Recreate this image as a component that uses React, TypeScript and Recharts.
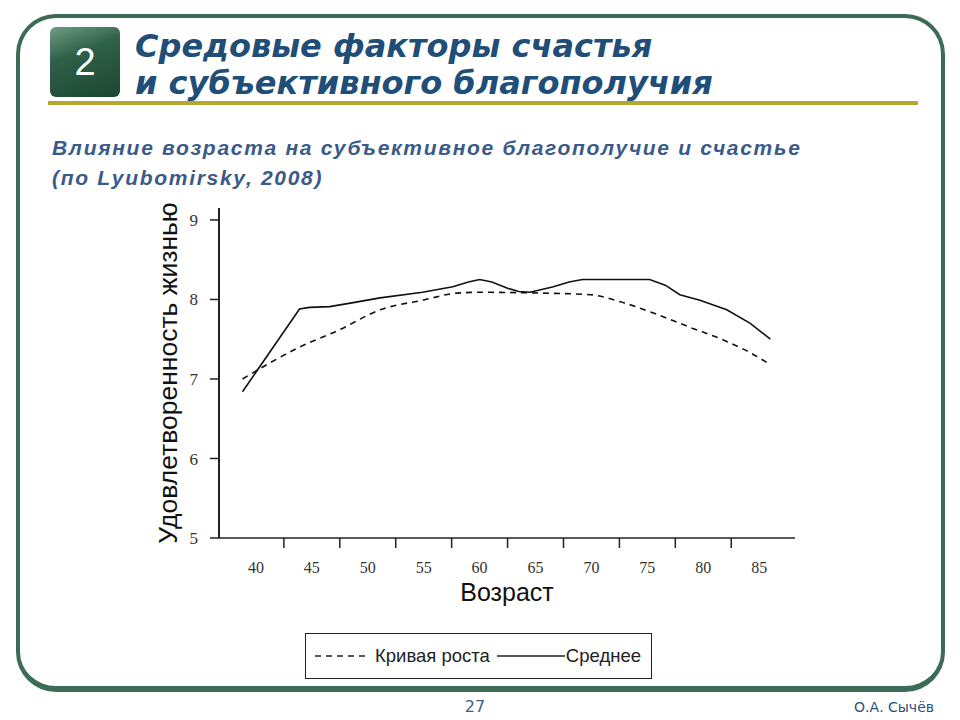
import { LineChart, Line, XAxis, YAxis, Legend } from "recharts";

// x axis: labels every 5 years, short tick marks between them
const AGE_TICKS = [40, 45, 50, 55, 60, 65, 70, 75, 80, 85];
const AGE_TICK_MARKS = [42.5, 47.5, 52.5, 57.5, 62.5, 67.5, 72.5, 77.5, 82.5];
const SCORE_TICKS = [5, 6, 7, 8, 9];

// "Кривая роста" (dashed)
const growthAges = [38.8, 43.9, 47.5, 51.1, 54.9, 58.0, 60.0, 65.4, 69.9, 72.6, 75.9, 78.8, 81.8, 84.2, 86.0];
const growthScores = [7.0, 7.4, 7.62, 7.87, 7.99, 8.08, 8.09, 8.08, 8.06, 7.97, 7.81, 7.65, 7.49, 7.33, 7.18];

// "Среднее" (solid)
const meanAges = [38.8, 43.9, 44.8, 46.6, 48.7, 51.1, 54.9, 57.6, 59.0, 60.0, 61.1, 62.5, 63.5, 64.5, 66.6, 68.0, 69.2, 75.2, 76.6, 77.9, 79.7, 82.1, 84.2, 86.0];
const meanScores = [6.84, 7.88, 7.9, 7.91, 7.96, 8.02, 8.09, 8.16, 8.22, 8.25, 8.22, 8.14, 8.1, 8.09, 8.16, 8.22, 8.25, 8.25, 8.18, 8.06, 7.99, 7.87, 7.7, 7.5];

const growthData = growthAges.map((age, i) => ({ age, score: growthScores[i] }));
const meanData = meanAges.map((age, i) => ({ age, score: meanScores[i] }));
const allAgeTicks = [...AGE_TICKS, ...AGE_TICK_MARKS].sort((a, b) => a - b);

const INK = "#222";
const SERIF = '"Liberation Serif", "Times New Roman", serif';
const SANS = '"Liberation Sans", Arial, sans-serif';

function AgeTick({ x, y, payload }: any) {
  const v = payload.value;
  if (AGE_TICKS.includes(v)) {
    return (
      <text x={x} y={y + 35} textAnchor="middle" fontFamily={SERIF} fontSize={16} fill="#333">
        {v}
      </text>
    );
  }
  return <line x1={x} x2={x} y1={y} y2={y + 10} stroke={INK} strokeWidth={1.5} />;
}

const sampleWidths = [55, 68];

function SeriesLegend({ payload }: any) {
  return (
    <div
      style={{
        boxSizing: "border-box",
        width: 347,
        height: 46,
        border: `1.5px solid ${INK}`,
        display: "flex",
        alignItems: "center",
        paddingLeft: 9,
        fontFamily: SANS,
        fontSize: 18.5,
        color: INK,
        background: "#fff",
        whiteSpace: "nowrap",
      }}
    >
      {(payload ?? []).map((entry: any, i: number) => (
        <span key={entry.value} style={{ display: "flex", alignItems: "center", marginLeft: i ? 7 : 0 }}>
          <svg width={sampleWidths[i]} height={10}>
            <line
              x1={0}
              x2={sampleWidths[i]}
              y1={5}
              y2={5}
              stroke={INK}
              strokeWidth={1.5}
              strokeDasharray={entry.payload?.strokeDasharray}
            />
          </svg>
          <span style={{ marginLeft: i ? 1 : 5 }}>{entry.value}</span>
        </span>
      ))}
    </div>
  );
}

export default function App() {
  return (
    <div style={{ position: "relative", width: 960, height: 720, background: "#fff", overflow: "hidden" }}>
      <style>{`body{margin:0}`}</style>

      {/* slide frame */}
      <div
        style={{
          position: "absolute",
          left: 16,
          top: 14,
          width: 929,
          height: 678,
          boxSizing: "border-box",
          border: "4px solid #3c6b56",
          borderBottomWidth: 6,
          borderRadius: 40,
        }}
      />

      {/* number badge */}
      <div
        style={{
          position: "absolute",
          left: 50,
          top: 27,
          width: 70,
          height: 70,
          borderRadius: 6,
          background: "linear-gradient(160deg, #6e9c84 0%, #2f6048 38%, #1c4632 100%)",
          color: "#fff",
          fontFamily: SANS,
          fontSize: 38,
          lineHeight: "70px",
          textAlign: "center",
        }}
      >
        2
      </div>

      <div
        style={{
          position: "absolute",
          left: 135,
          top: 28,
          fontFamily: '"DejaVu Sans", sans-serif',
          fontWeight: "bold",
          fontStyle: "italic",
          fontSize: 32,
          lineHeight: "37px",
          color: "#1f4e79",
          whiteSpace: "nowrap",
        }}
      >
        Средовые факторы счастья
        <br />и субъективного благополучия
      </div>

      <div style={{ position: "absolute", left: 48, top: 101, width: 870, height: 4, background: "#b5a830" }} />

      <div
        style={{
          position: "absolute",
          left: 52,
          top: 133,
          fontFamily: SANS,
          fontWeight: "bold",
          fontStyle: "italic",
          fontSize: 21,
          letterSpacing: "1.7px",
          lineHeight: "30px",
          color: "#3a5a8a",
          whiteSpace: "nowrap",
        }}
      >
        Влияние возраста на субъективное благополучие и счастье
        <br />
        (по Lyubomirsky, 2008)
      </div>

      <div style={{ position: "absolute", left: 0, top: 0 }}>
        <LineChart width={960} height={720} margin={{ top: 208, right: 165, bottom: 142, left: 159 }}>
          <XAxis
            xAxisId="age"
            type="number"
            dataKey="age"
            domain={[36.7, 88.2]}
            allowDataOverflow
            ticks={allAgeTicks}
            interval={0}
            tick={<AgeTick />}
            tickLine={false}
            tickSize={0}
            tickMargin={0}
            height={40}
            axisLine={{ stroke: INK, strokeWidth: 1.5 }}
            label={{
              content: ({ viewBox }: any) => (
                <text
                  x={viewBox.x + viewBox.width / 2}
                  y={viewBox.y + 63}
                  textAnchor="middle"
                  fontFamily={SANS}
                  fontSize={25}
                  fill="#111"
                >
                  Возраст
                </text>
              ),
            }}
          />
          <XAxis
            xAxisId="frame"
            orientation="top"
            type="number"
            domain={[36.7, 88.2]}
            height={0}
            tick={false}
            tickLine={false}
            axisLine={{ stroke: INK, strokeWidth: 2 }}
          />
          <YAxis
            yAxisId="score"
            type="number"
            domain={[5, 9.15]}
            allowDataOverflow
            ticks={SCORE_TICKS}
            interval={0}
            width={60}
            tickSize={9}
            tickMargin={12}
            tick={{ fontFamily: SERIF, fontSize: 17, fill: "#333" }}
            tickLine={{ stroke: INK, strokeWidth: 1.5 }}
            axisLine={{ stroke: INK, strokeWidth: 2 }}
            label={{
              content: ({ viewBox }: any) => {
                const cx = viewBox.x + 9;
                const cy = viewBox.y + viewBox.height / 2;
                return (
                  <text
                    x={cx}
                    y={cy}
                    transform={`rotate(-90 ${cx} ${cy})`}
                    textAnchor="middle"
                    dominantBaseline="central"
                    fontFamily={SANS}
                    fontSize={26.5}
                    fill="#111"
                  >
                    Удовлетворенность жизнью
                  </text>
                );
              },
            }}
          />
          <YAxis
            yAxisId="frame"
            orientation="right"
            type="number"
            domain={[5, 9.15]}
            width={0}
            tick={false}
            tickLine={false}
            axisLine={{ stroke: INK, strokeWidth: 1.5 }}
          />
          <Legend
            verticalAlign="middle"
            align="center"
            content={<SeriesLegend />}
            wrapperStyle={{ left: 305, top: 633, width: 347, height: 46 }}
          />
          <Line
            xAxisId="age"
            yAxisId="score"
            data={growthData}
            dataKey="score"
            name="Кривая роста"
            type="monotone"
            stroke="#111"
            strokeWidth={1.6}
            strokeDasharray="6 5"
            dot={false}
            activeDot={false}
            isAnimationActive={false}
          />
          <Line
            xAxisId="age"
            yAxisId="score"
            data={meanData}
            dataKey="score"
            name="Среднее"
            type="linear"
            stroke="#111"
            strokeWidth={1.6}
            dot={false}
            activeDot={false}
            isAnimationActive={false}
          />
        </LineChart>
      </div>

      <div
        style={{
          position: "absolute",
          left: 455,
          top: 697,
          width: 40,
          textAlign: "center",
          fontFamily: '"DejaVu Sans", sans-serif',
          fontSize: 16,
          color: "#3e5e8c",
        }}
      >
        27
      </div>
      <div
        style={{
          position: "absolute",
          right: 26,
          top: 699,
          fontFamily: '"DejaVu Sans", sans-serif',
          fontSize: 14,
          color: "#2d4f80",
          whiteSpace: "nowrap",
        }}
      >
        О.А. Сычёв
      </div>
    </div>
  );
}
